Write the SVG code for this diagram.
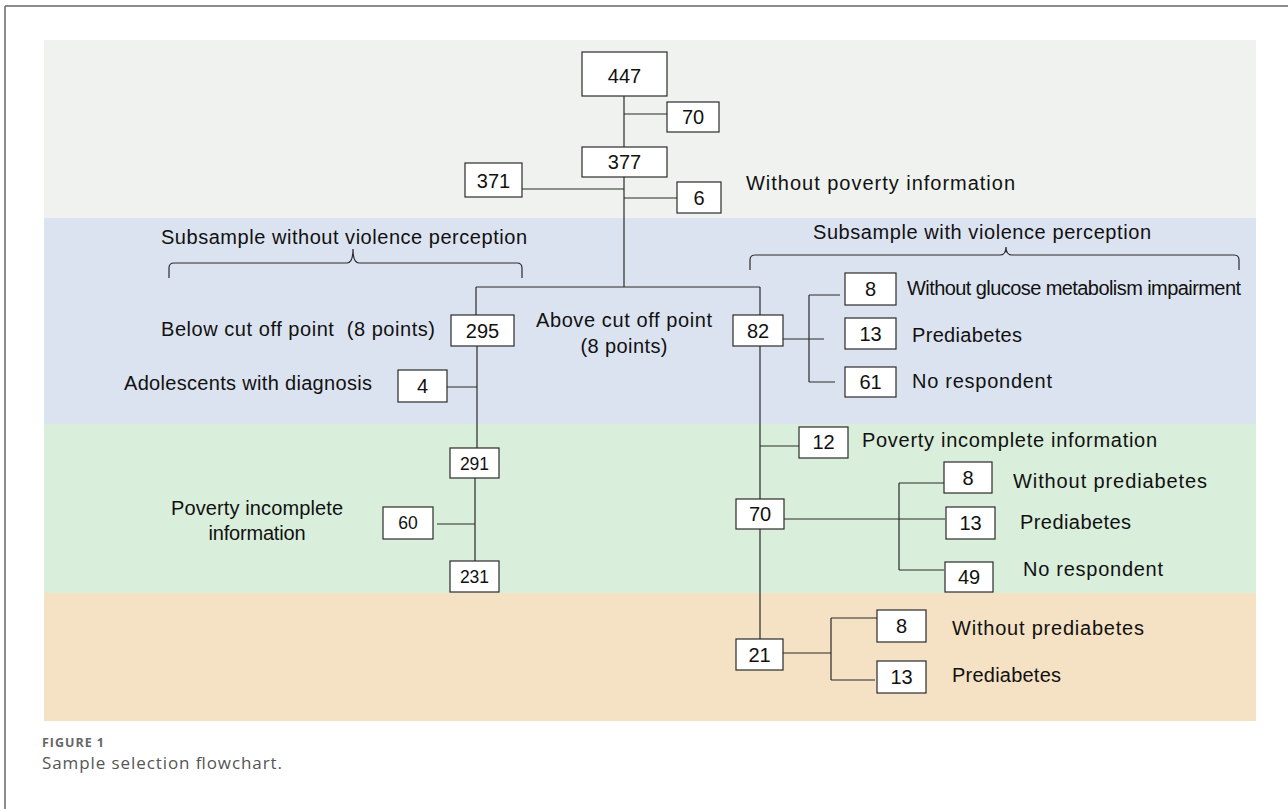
<svg xmlns="http://www.w3.org/2000/svg" width="1288" height="809" viewBox="0 0 1288 809">
<style>
.box{fill:#ffffff;stroke:#2a2a2a;stroke-width:1.2}
.num{font-family:"Liberation Sans",Arial,sans-serif;font-size:20px;fill:#111;text-anchor:middle}
.sm{font-size:17.5px}
.lbl{font-family:"Liberation Sans",Arial,sans-serif;font-size:20px;fill:#111;white-space:pre}
.mid{text-anchor:middle}
.ln{stroke:#2a2a2a;stroke-width:1.2;fill:none}
</style>
<rect width="1288" height="809" fill="#ffffff"/>
<g id="frame" stroke="#666" stroke-width="1.5">
<line x1="5" y1="6" x2="1288" y2="6"/>
<line x1="5" y1="6" x2="5" y2="809"/>
</g>
<g id="bands">
<rect x="44" y="40" width="1212" height="178" fill="#eff2ef"/>
<rect x="44" y="218" width="1212" height="206" fill="#dce3f0"/>
<rect x="44" y="424" width="1212" height="169" fill="#d9eedb"/>
<rect x="44" y="593" width="1212" height="128" fill="#f5e1c3"/>
</g>
<g id="connectors" class="ln">
<path class="ln" d="M624,96 V147 M624,114 H667 M624,177 V287 M522,189 H624 M624,198 H677"/>
<path class="ln" d="M476,287 H760 M476,287 V315 M760,287 V315"/>
<path class="ln" d="M477,346 V448 M447,387 H477 M475,478 V561 M437,524 H475"/>
<path class="ln" d="M783,339 H824 M809,295 V382 M809,295 H840 M809,382 H835"/>
<path class="ln" d="M760,346 V499 M760,446 H799"/>
<path class="ln" d="M784,519 H945 M899,483 V570 M899,483 H944 M899,570 H944"/>
<path class="ln" d="M760,529 V639 M783,653 H831 M831,618 V680 M831,618 H877 M831,680 H875"/>
<path class="ln" d="M169,278 V268 Q169,263 174,263 H347 Q353,263 353,249 Q353,263 359,263 H517 Q522,263 522,268 V278"/>
<path class="ln" d="M750,270 V260 Q750,255 755,255 H1000 Q1006,255 1006,247 Q1006,255 1012,255 H1234 Q1239,255 1239,260 V270"/>
</g>
<g id="n447"><rect class="box" x="582" y="52" width="85" height="44"/><text class="num" x="624.5" y="83" font-size="23">447</text></g>
<g id="n70a"><rect class="box" x="667" y="102" width="52" height="30"/><text class="num" x="693" y="124">70</text></g>
<g id="n377"><rect class="box" x="582" y="147" width="85" height="30"/><text class="num" x="624.5" y="169">377</text></g>
<g id="n371"><rect class="box" x="465" y="163" width="57" height="34"/><text class="num" x="493.5" y="188">371</text></g>
<g id="n6"><rect class="box" x="677" y="182" width="44" height="31"/><text class="num" x="699" y="205">6</text></g>
<g id="t-nopov"><text class="lbl" x="746" y="190" textLength="269">Without poverty information</text></g>
<g id="t-subwo"><text class="lbl" x="161" y="244" textLength="366">Subsample without violence perception</text></g>
<g id="t-subw"><text class="lbl" x="813" y="239" textLength="338">Subsample with violence perception</text></g>
<g id="n295"><rect class="box" x="451" y="315" width="63" height="31"/><text class="num" x="482.5" y="338">295</text></g>
<g id="t-below"><text class="lbl" x="161" y="336" textLength="274">Below cut off point  (8 points)</text></g>
<g id="t-above"><text class="lbl mid" x="624" y="327" textLength="176">Above cut off point</text><text class="lbl mid" x="624" y="353" textLength="87">(8 points)</text></g>
<g id="n82"><rect class="box" x="733" y="315" width="50" height="31"/><text class="num" x="758" y="338">82</text></g>
<g id="n4"><rect class="box" x="398" y="370" width="49" height="32"/><text class="num" x="422.5" y="393">4</text></g>
<g id="t-adol"><text class="lbl" x="124" y="390" textLength="248">Adolescents with diagnosis</text></g>
<g id="n8a"><rect class="box" x="845" y="273" width="51" height="32"/><text class="num" x="870.5" y="296">8</text><text class="lbl" x="907" y="295" textLength="334">Without glucose metabolism impairment</text></g>
<g id="n13a"><rect class="box" x="845" y="318" width="51" height="31"/><text class="num" x="870.5" y="341">13</text><text class="lbl" x="912" y="342" textLength="110">Prediabetes</text></g>
<g id="n61"><rect class="box" x="845" y="367" width="51" height="30"/><text class="num" x="870.5" y="389">61</text><text class="lbl" x="912" y="388" textLength="140">No respondent</text></g>
<g id="n291"><rect class="box" x="450" y="448" width="49" height="30"/><text class="num sm" x="474.5" y="470">291</text></g>
<g id="n60"><rect class="box" x="383" y="507" width="50" height="32"/><text class="num sm" x="408" y="529">60</text></g>
<g id="t-povl"><text class="lbl mid" x="257" y="515" textLength="172">Poverty incomplete</text><text class="lbl mid" x="257" y="540" textLength="97">information</text></g>
<g id="n231"><rect class="box" x="450" y="561" width="49" height="31"/><text class="num sm" x="474.5" y="583">231</text></g>
<g id="n12"><rect class="box" x="799" y="427" width="49" height="31"/><text class="num" x="823.5" y="449">12</text><text class="lbl" x="862" y="447" textLength="295">Poverty incomplete information</text></g>
<g id="n70b"><rect class="box" x="736" y="499" width="48" height="30"/><text class="num" x="760" y="521">70</text></g>
<g id="n8b"><rect class="box" x="944" y="462" width="48" height="31"/><text class="num" x="968" y="485">8</text><text class="lbl" x="1013" y="488" textLength="194">Without prediabetes</text></g>
<g id="n13b"><rect class="box" x="946" y="507" width="49" height="32"/><text class="num" x="970.5" y="530">13</text><text class="lbl" x="1020" y="529" textLength="111">Prediabetes</text></g>
<g id="n49"><rect class="box" x="945" y="562" width="48" height="30"/><text class="num" x="969" y="584">49</text><text class="lbl" x="1023" y="576" textLength="140">No respondent</text></g>
<g id="n21"><rect class="box" x="736" y="639" width="47" height="31"/><text class="num" x="759.5" y="662">21</text></g>
<g id="n8c"><rect class="box" x="877" y="610" width="49" height="32"/><text class="num" x="901.5" y="633">8</text><text class="lbl" x="952" y="635" textLength="192">Without prediabetes</text></g>
<g id="n13c"><rect class="box" x="877" y="661" width="49" height="32"/><text class="num" x="901.5" y="684">13</text><text class="lbl" x="952" y="682" textLength="109">Prediabetes</text></g>
<g id="caption">
<text x="42" y="747" font-family="'Open Sans','Liberation Sans',sans-serif" font-size="12.5" font-weight="bold" fill="#666" textLength="62">FIGURE 1</text>
<text x="42" y="769" font-family="'Open Sans','Liberation Sans',sans-serif" font-size="17" fill="#555" textLength="240">Sample selection flowchart.</text>
</g>
</svg>
